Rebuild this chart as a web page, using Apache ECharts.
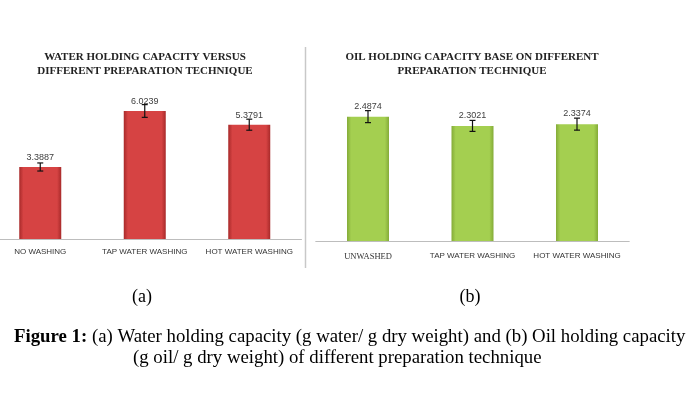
<!DOCTYPE html>
<html><head><meta charset="utf-8">
<script src="https://cdn.jsdelivr.net/npm/echarts@6/dist/echarts.min.js"></script>
<style>html,body{margin:0;padding:0;background:#fff}#c{width:694px;height:396px}</style>
</head><body><div id="c"></div>
<script>
const catsA = ['NO WASHING', 'TAP WATER WASHING', 'HOT WATER WASHING'];
const valsA = [3.3887, 6.0239, 5.3791];
const errA = [0.19, 0.30, 0.26];
const catsB = ['UNWASHED', 'TAP WATER WASHING', 'HOT WATER WASHING'];
const valsB = [2.4874, 2.3021, 2.3374];
const errB = [0.12, 0.11, 0.12];
const titleA = 'WATER HOLDING CAPACITY VERSUS\nDIFFERENT PREPARATION TECHNIQUE';
const titleB = 'OIL HOLDING CAPACITY BASE ON DIFFERENT\nPREPARATION TECHNIQUE';

const chart = echarts.init(document.getElementById('c'), null, {renderer: 'canvas'});

function grad(edge, mid) {
  return new echarts.graphic.LinearGradient(0, 0, 1, 0, [
    {offset: 0, color: edge}, {offset: 0.1, color: mid},
    {offset: 0.9, color: mid}, {offset: 1, color: edge}
  ]);
}
function errSeries(idx, vals, errs) {
  return {
    type: 'custom', xAxisIndex: idx, yAxisIndex: idx, z: 5,
    data: vals.map((v, i) => [i, v, errs[i]]),
    renderItem: function (params, api) {
      const i = api.value(0), v = api.value(1), e = api.value(2);
      const hi = api.coord([i, v + e]), lo = api.coord([i, v - e]);
      const x = hi[0], w = 3;
      const st = {stroke: '#111', lineWidth: 1.2};
      return {type: 'group', children: [
        {type: 'line', shape: {x1: x, y1: hi[1], x2: x, y2: lo[1]}, style: st},
        {type: 'line', shape: {x1: x - w, y1: hi[1], x2: x + w, y2: hi[1]}, style: st},
        {type: 'line', shape: {x1: x - w, y1: lo[1], x2: x + w, y2: lo[1]}, style: st}
      ]};
    }
  };
}
const sansLbl = {fontFamily: 'Liberation Sans', fontSize: 8, color: '#333'};

chart.setOption({
  animation: false,
  grid: [
    {left: -12, width: 313.5, top: 69, height: 170, outerBoundsMode: 'none'},
    {left: 315.75, width: 313.5, top: 91, height: 150, outerBoundsMode: 'none'}
  ],
  xAxis: [
    {gridIndex: 0, type: 'category', data: catsA,
     axisLine: {lineStyle: {color: '#bdbdbd', width: 1}}, axisTick: {show: false},
     axisLabel: Object.assign({margin: 9, interval: 0}, sansLbl)},
    {gridIndex: 1, type: 'category', data: catsB,
     axisLine: {lineStyle: {color: '#bdbdbd', width: 1}}, axisTick: {show: false},
     axisLabel: Object.assign({margin: 11, interval: 0}, sansLbl, {
       formatter: function (v) { return v === 'UNWASHED' ? '{s|' + v + '}' : v; },
       rich: {s: {fontFamily: 'Liberation Serif', fontSize: 8.5, color: '#333'}}
     })}
  ],
  yAxis: [
    {gridIndex: 0, type: 'value', min: 0, max: 8, show: false, splitLine: {show: false}},
    {gridIndex: 1, type: 'value', min: 0, max: 3, show: false, splitLine: {show: false}}
  ],
  series: [
    {type: 'bar', xAxisIndex: 0, yAxisIndex: 0, data: valsA, barWidth: 42,
     itemStyle: {color: grad('#a82a2a', '#d64343')},
     label: {show: true, position: 'top', distance: 5, fontFamily: 'Liberation Sans', fontSize: 9, color: '#404040',
             formatter: p => p.value.toFixed(4)}},
    {type: 'bar', xAxisIndex: 1, yAxisIndex: 1, data: valsB, barWidth: 42,
     itemStyle: {color: grad('#84ab38', '#a4cf50')},
     label: {show: true, position: 'top', distance: 6, fontFamily: 'Liberation Sans', fontSize: 9, color: '#404040',
             formatter: p => p.value.toFixed(4)}},
    errSeries(0, valsA, errA),
    errSeries(1, valsB, errB)
  ],
  graphic: [
    {type: 'text', x: 145, y: 50, style: {text: titleA, textAlign: 'center',
      font: 'bold 11px "Liberation Serif"', fill: '#222', lineHeight: 14}},
    {type: 'text', x: 472, y: 50, style: {text: titleB, textAlign: 'center',
      font: 'bold 11px "Liberation Serif"', fill: '#222', lineHeight: 14}},
    {type: 'line', shape: {x1: 305.5, y1: 47, x2: 305.5, y2: 268}, style: {stroke: '#c8c8c8', lineWidth: 1.5}},
    {type: 'text', x: 142, y: 297, style: {text: '(a)', textAlign: 'center', textVerticalAlign: 'middle',
      font: '18px "Liberation Serif"', fill: '#000'}},
    {type: 'text', x: 470, y: 297, style: {text: '(b)', textAlign: 'center', textVerticalAlign: 'middle',
      font: '18px "Liberation Serif"', fill: '#000'}},
    {type: 'text', x: 14, y: 337, style: {
      text: '{b|Figure 1:} (a) Water holding capacity (g water/ g dry weight) and (b) Oil holding capacity',
      textVerticalAlign: 'middle', font: '18.8px "Liberation Serif"', fill: '#000',
      rich: {b: {fontWeight: 'bold', fontFamily: 'Liberation Serif', fontSize: 18.8, fill: '#000'}}}},
    {type: 'text', x: 133, y: 358, style: {text: '(g oil/ g dry weight) of different preparation technique',
      textVerticalAlign: 'middle', font: '18.8px "Liberation Serif"', fill: '#000'}}
  ]
});
</script></body></html>
